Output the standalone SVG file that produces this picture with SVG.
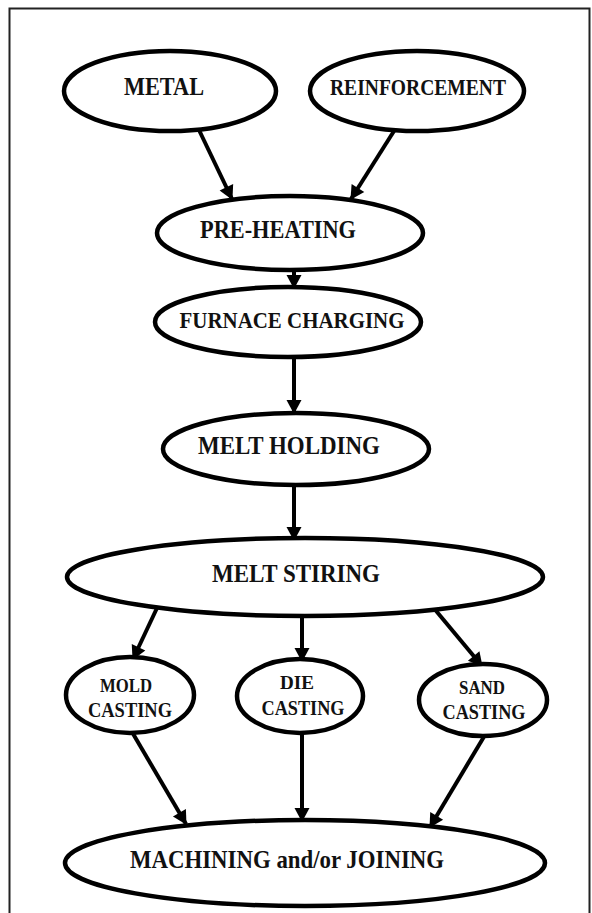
<svg xmlns="http://www.w3.org/2000/svg" width="592" height="913" viewBox="0 0 592 913">
<defs>
<style>
.n ellipse{fill:#fff;stroke:#000;stroke-width:4.5}
.n text{font-family:"Liberation Serif","Times New Roman",serif;font-weight:bold;fill:#111;text-anchor:middle}
.c line{stroke:#000;stroke-width:4;marker-end:url(#ah)}
</style>
<marker id="ah" markerUnits="userSpaceOnUse" markerWidth="18" markerHeight="18" viewBox="0 0 18 18" refX="16" refY="9" orient="auto">
<path d="M3,1.5 L17,9 L3,16.5 Z" fill="#000"/>
</marker>
</defs>
<rect width="592" height="913" fill="#fff"/>
<path d="M9.5,913 V8.5 H589.5 V913" fill="none" stroke="#222" stroke-width="2"/>
<g class="c" id="connectors">
<line x1="199" y1="130" x2="232" y2="199"/>
<line x1="394" y1="131" x2="351" y2="199"/>
<line x1="294" y1="270" x2="294" y2="288"/>
<line x1="294" y1="357" x2="294" y2="413"/>
<line x1="294" y1="485" x2="294" y2="540"/>
<line x1="157" y1="608" x2="133" y2="659"/>
<line x1="302" y1="616" x2="302" y2="661"/>
<line x1="432" y1="606" x2="482" y2="666"/>
<line x1="132" y1="732" x2="186" y2="824"/>
<line x1="302" y1="733" x2="302" y2="821"/>
<line x1="485" y1="735" x2="430" y2="827"/>
</g>
<g class="n" id="metal"><ellipse cx="170" cy="91" rx="106" ry="40"/><text x="164" y="95" font-size="25" textLength="80" lengthAdjust="spacingAndGlyphs">METAL</text></g>
<g class="n" id="reinforcement"><ellipse cx="417" cy="91" rx="107" ry="40"/><text x="418" y="95" font-size="24" textLength="176" lengthAdjust="spacingAndGlyphs">REINFORCEMENT</text></g>
<g class="n" id="preheating"><ellipse cx="290" cy="233" rx="133" ry="37"/><text x="278" y="238" font-size="25" textLength="156" lengthAdjust="spacingAndGlyphs">PRE-HEATING</text></g>
<g class="n" id="furnace"><ellipse cx="288" cy="322" rx="133" ry="35"/><text x="292" y="328" font-size="23" textLength="225" lengthAdjust="spacingAndGlyphs">FURNACE CHARGING</text></g>
<g class="n" id="meltholding"><ellipse cx="296" cy="449" rx="133" ry="36"/><text x="289" y="454" font-size="25" textLength="182" lengthAdjust="spacingAndGlyphs">MELT HOLDING</text></g>
<g class="n" id="meltstiring"><ellipse cx="305" cy="577" rx="238" ry="39"/><text x="296" y="582" font-size="25" textLength="168" lengthAdjust="spacingAndGlyphs">MELT STIRING</text></g>
<g class="n" id="mold"><ellipse cx="130" cy="695" rx="64" ry="38"/><text x="126" y="692" font-size="18" textLength="52" lengthAdjust="spacingAndGlyphs">MOLD</text><text x="130" y="717" font-size="20" textLength="84" lengthAdjust="spacingAndGlyphs">CASTING</text></g>
<g class="n" id="die"><ellipse cx="300" cy="696" rx="63" ry="37"/><text x="297" y="689" font-size="18" textLength="34" lengthAdjust="spacingAndGlyphs">DIE</text><text x="303" y="715" font-size="20" textLength="83" lengthAdjust="spacingAndGlyphs">CASTING</text></g>
<g class="n" id="sand"><ellipse cx="483" cy="700" rx="64" ry="36"/><text x="482" y="694" font-size="18" textLength="46" lengthAdjust="spacingAndGlyphs">SAND</text><text x="484" y="719" font-size="20" textLength="83" lengthAdjust="spacingAndGlyphs">CASTING</text></g>
<g class="n" id="machining"><ellipse cx="305" cy="863" rx="240" ry="43"/><text x="287" y="868" font-size="25" textLength="314" lengthAdjust="spacingAndGlyphs">MACHINING and/or JOINING</text></g>
</svg>
